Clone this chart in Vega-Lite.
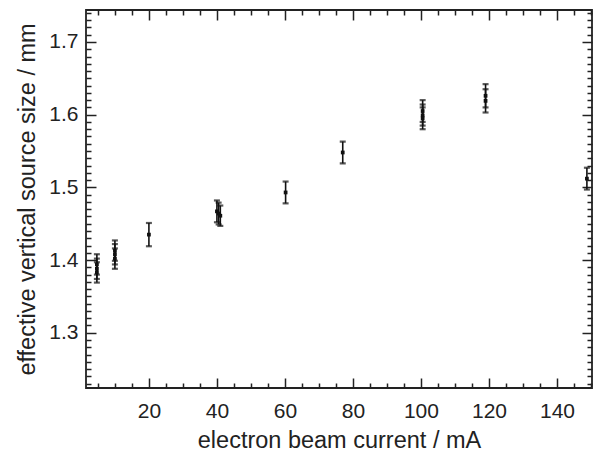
{
  "$schema": "https://vega.github.io/schema/vega-lite/v6.json",
  "autosize": "none",
  "width": 506,
  "height": 378,
  "padding": {"left": 86, "top": 10, "right": 7, "bottom": 68},
  "background": "white",
  "config": {
    "view": {"stroke": "#222", "strokeWidth": 1.8},
    "axis": {
      "grid": false,
      "domain": false,
      "labelFont": "Liberation Sans",
      "titleFont": "Liberation Sans",
      "labelFontSize": 21,
      "titleFontSize": 23.5,
      "titleFontWeight": "normal",
      "labelColor": "#222",
      "titleColor": "#222",
      "tickColor": "#222",
      "tickWidth": 1.5
    }
  },
  "data": {
    "values": [
      {"current": 4.7, "size": 1.394, "lo": 1.380, "hi": 1.408},
      {"current": 4.7, "size": 1.388, "lo": 1.374, "hi": 1.402},
      {"current": 4.7, "size": 1.383, "lo": 1.369, "hi": 1.397},
      {"current": 10.0, "size": 1.413, "lo": 1.399, "hi": 1.427},
      {"current": 10.0, "size": 1.408, "lo": 1.394, "hi": 1.422},
      {"current": 10.0, "size": 1.402, "lo": 1.388, "hi": 1.416},
      {"current": 20.0, "size": 1.435, "lo": 1.419, "hi": 1.451},
      {"current": 40.0, "size": 1.467, "lo": 1.452, "hi": 1.482},
      {"current": 40.5, "size": 1.464, "lo": 1.449, "hi": 1.479},
      {"current": 41.0, "size": 1.461, "lo": 1.447, "hi": 1.475},
      {"current": 60.2, "size": 1.493, "lo": 1.478, "hi": 1.508},
      {"current": 77.0, "size": 1.548, "lo": 1.533, "hi": 1.563},
      {"current": 100.5, "size": 1.605, "lo": 1.590, "hi": 1.620},
      {"current": 100.5, "size": 1.599, "lo": 1.585, "hi": 1.614},
      {"current": 100.5, "size": 1.595, "lo": 1.580, "hi": 1.610},
      {"current": 119.0, "size": 1.626, "lo": 1.610, "hi": 1.642},
      {"current": 119.0, "size": 1.619, "lo": 1.603, "hi": 1.635},
      {"current": 148.8, "size": 1.512, "lo": 1.497, "hi": 1.527}
    ]
  },
  "resolve": {"axis": {"x": "independent", "y": "independent"}},
  "layer": [
    {
      "mark": {"type": "rule", "color": "#111", "strokeWidth": 1.6},
      "encoding": {
        "x": {
          "field": "current", "type": "quantitative",
          "scale": {"domain": [1.5, 150.3], "nice": false, "zero": false},
          "axis": {"orient": "bottom", "title": "electron beam current / mA", "values": [20, 40, 60, 80, 100, 120, 140], "tickSize": -10, "labelPadding": 22, "titlePadding": 7}
        },
        "y": {
          "field": "lo", "type": "quantitative",
          "scale": {"domain": [1.224, 1.744], "nice": false, "zero": false},
          "axis": {"orient": "left", "title": "effective vertical source size / mm", "values": [1.3, 1.4, 1.5, 1.6, 1.7], "format": ".1f", "tickSize": -10, "labelPadding": 18, "titlePadding": 9}
        },
        "y2": {"field": "hi"}
      }
    },
    {
      "mark": {"type": "tick", "orient": "horizontal", "color": "#111", "size": 6, "thickness": 2.2},
      "encoding": {
        "x": {
          "field": "current", "type": "quantitative",
          "axis": {"orient": "bottom", "title": null, "labels": false, "values": [5, 10, 15, 25, 30, 35, 45, 50, 55, 65, 70, 75, 85, 90, 95, 105, 110, 115, 125, 130, 135, 145, 150], "tickSize": -5}
        },
        "y": {
          "field": "lo", "type": "quantitative",
          "axis": {"orient": "left", "title": null, "labels": false, "values": [1.23, 1.24, 1.25, 1.26, 1.27, 1.28, 1.29, 1.31, 1.32, 1.33, 1.34, 1.35, 1.36, 1.37, 1.38, 1.39, 1.41, 1.42, 1.43, 1.44, 1.45, 1.46, 1.47, 1.48, 1.49, 1.51, 1.52, 1.53, 1.54, 1.55, 1.56, 1.57, 1.58, 1.59, 1.61, 1.62, 1.63, 1.64, 1.65, 1.66, 1.67, 1.68, 1.69, 1.71, 1.72, 1.73, 1.74], "tickSize": -5}
        }
      }
    },
    {
      "mark": {"type": "tick", "orient": "horizontal", "color": "#111", "size": 6, "thickness": 2.2},
      "encoding": {
        "x": {
          "field": "current", "type": "quantitative",
          "axis": {"orient": "top", "title": null, "labels": false, "values": [20, 40, 60, 80, 100, 120, 140], "tickSize": -10}
        },
        "y": {
          "field": "hi", "type": "quantitative",
          "axis": {"orient": "right", "title": null, "labels": false, "values": [1.3, 1.4, 1.5, 1.6, 1.7], "tickSize": -10}
        }
      }
    },
    {
      "mark": {"type": "point", "shape": "square", "filled": true, "color": "#111", "size": 14, "opacity": 1},
      "encoding": {
        "x": {
          "field": "current", "type": "quantitative",
          "axis": {"orient": "top", "title": null, "labels": false, "values": [5, 10, 15, 25, 30, 35, 45, 50, 55, 65, 70, 75, 85, 90, 95, 105, 110, 115, 125, 130, 135, 145, 150], "tickSize": -5}
        },
        "y": {
          "field": "size", "type": "quantitative",
          "axis": {"orient": "right", "title": null, "labels": false, "values": [1.23, 1.24, 1.25, 1.26, 1.27, 1.28, 1.29, 1.31, 1.32, 1.33, 1.34, 1.35, 1.36, 1.37, 1.38, 1.39, 1.41, 1.42, 1.43, 1.44, 1.45, 1.46, 1.47, 1.48, 1.49, 1.51, 1.52, 1.53, 1.54, 1.55, 1.56, 1.57, 1.58, 1.59, 1.61, 1.62, 1.63, 1.64, 1.65, 1.66, 1.67, 1.68, 1.69, 1.71, 1.72, 1.73, 1.74], "tickSize": -5}
        }
      }
    }
  ]
}
